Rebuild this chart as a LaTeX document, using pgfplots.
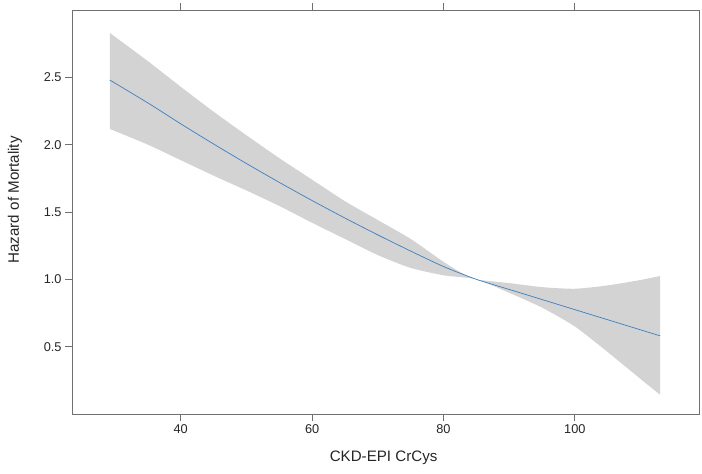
\documentclass[border=0pt]{standalone}
\usepackage{pgfplots}
\pgfplotsset{compat=1.18}
\usepgfplotslibrary{fillbetween}
\usepackage{fontspec}
\setmainfont{Liberation Sans}
\definecolor{bandgray}{RGB}{211,211,211}
\definecolor{fitblue}{RGB}{60,128,190}
\definecolor{axgray}{RGB}{112,112,112}
\begin{document}
\begin{tikzpicture}
\begin{axis}[
  at={(0,0)}, anchor=south west,
  scale only axis, width=627bp, height=404bp,
  xmin=23.45, xmax=118.9, ymin=0, ymax=3,
  xtick={40,60,80,100}, ytick={0.5,1.0,1.5,2.0,2.5},
  xtick pos=both, xticklabel pos=lower, ytick pos=left,
  tick align=outside, major tick length=7bp,
  axis line style={axgray, line width=0.9bp},
  every tick/.style={axgray, line width=0.9bp},
  /pgf/number format/assume math mode=true,
  yticklabel={\pgfmathprintnumber[fixed,fixed zerofill,precision=1]{\tick}},
  ticklabel style={font=\fontsize{12.8}{15}\selectfont, text=black!85},
  xlabel={CKD-EPI CrCys}, ylabel={Hazard of Mortality},
  label style={font=\fontsize{15.2}{18}\selectfont, text=black!85},
  xlabel style={at={(axis description cs:0.497,-0.135)}, anchor=south},
  ylabel style={at={(axis description cs:-0.091,0.53)}, anchor=center},
]
\addplot[name path=upper, draw=none, forget plot, smooth, tension=0.4] coordinates {
(29.2,2.83) (35,2.62) (40,2.43) (45,2.245) (50,2.07) (55,1.90) (60,1.74)
(65,1.58) (70,1.44) (75,1.30) (80,1.13) (82.5,1.055) (85,1.0) (90,0.972) (95,0.942)
(100,0.93) (105,0.955) (110,0.995) (113,1.025)};
\addplot[name path=lower, draw=none, forget plot, smooth, tension=0.4] coordinates {
(29.2,2.117) (35,2.0) (40,1.885) (45,1.77) (50,1.66) (55,1.545) (60,1.42)
(65,1.30) (70,1.18) (75,1.085) (80,1.03) (85,1.0) (90,0.90) (95,0.79)
(100,0.65) (105,0.46) (110,0.26) (113,0.142)};
\addplot[fill=bandgray, draw=none, forget plot] fill between[of=upper and lower];
\addplot[fitblue, line width=0.7bp, smooth, tension=0.4] coordinates {
(29.2,2.48) (35,2.31) (40,2.155) (45,2.005) (50,1.86) (55,1.72) (60,1.585)
(65,1.455) (70,1.33) (75,1.21) (80,1.095) (85,1.0) (90,0.925) (95,0.85)
(100,0.775) (105,0.70) (110,0.625) (113,0.58)};
\end{axis}
\pgfresetboundingbox
\path[use as bounding box] (-72bp,-60bp) rectangle (630bp,414bp);
\end{tikzpicture}
\end{document}
